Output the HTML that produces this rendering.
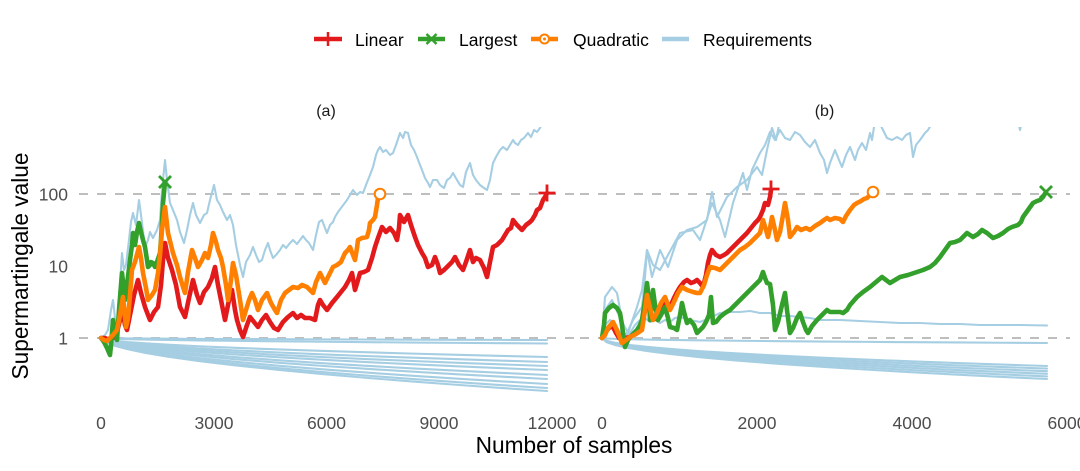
<!DOCTYPE html>
<html><head><meta charset="utf-8"><style>
html,body{margin:0;padding:0;background:#fff}
svg{display:block}
.req{fill:none;stroke:#A6CEE3;stroke-width:2.1;stroke-linejoin:round;stroke-linecap:round}
.s{fill:none;stroke-width:4.6;stroke-linejoin:round;stroke-linecap:round}
.grid{stroke:#BEBEBE;stroke-width:2;stroke-dasharray:9 9}
.tk{font-size:17.5px;fill:#4D4D4D}
</style></head><body>
<svg width="1080" height="471" viewBox="0 0 1080 471" xmlns="http://www.w3.org/2000/svg" font-family="'Liberation Sans', Arial, sans-serif">
<defs>
<clipPath id="ca"><rect x="79" y="127" width="496" height="290"/></clipPath>
<clipPath id="cb"><rect x="580" y="127" width="490" height="290"/></clipPath>
<path id="fa" d="M0 0 L4.46 .0794 L13.38 .1453 L26.76 .2128 L44.6 .2818 L66.9 .3523 L98.12 .4348 L133.8 .5157 L178.4 .6041 L223 .683 L267.6 .755 L312.2 .8219 L356.8 .8845 L401.4 .9437 L446 1" class="req" vector-effect="non-scaling-stroke"/>
<path id="fb" d="M0 0 L4.45 .1 L13.35 .1732 L26.7 .2449 L44.5 .3162 L66.75 .3873 L97.9 .469 L133.5 .5477 L178 .6325 L222.5 .7071 L267 .7746 L311.5 .8367 L356 .8944 L400.5 .9487 L445 1" class="req" vector-effect="non-scaling-stroke"/>
</defs>

<!-- Legend -->
<g>
<line x1="314" y1="39" x2="342" y2="39" stroke="#E31A1C" stroke-width="4.5"/>
<line x1="328" y1="32" x2="328" y2="46" stroke="#E31A1C" stroke-width="2.5"/>
<text x="355" y="46" font-size="17.5" fill="#000">Linear</text>
<line x1="418" y1="39" x2="445" y2="39" stroke="#33A02C" stroke-width="4.5"/>
<line x1="426.5" y1="34" x2="436.5" y2="44" stroke="#33A02C" stroke-width="2.5"/>
<line x1="426.5" y1="44" x2="436.5" y2="34" stroke="#33A02C" stroke-width="2.5"/>
<text x="459" y="46" font-size="17.5" fill="#000">Largest</text>
<line x1="531" y1="39" x2="558" y2="39" stroke="#FF7F00" stroke-width="4.5"/>
<circle cx="544.5" cy="39" r="4.5" fill="#fff" stroke="#FF7F00" stroke-width="2"/>
<circle cx="544.5" cy="39" r="1.5" fill="#FF7F00"/>
<text x="573" y="46" font-size="17.5" fill="#000">Quadratic</text>
<line x1="662" y1="39" x2="689" y2="39" stroke="#A6CEE3" stroke-width="4.5"/>
<text x="703" y="46" font-size="17.5" fill="#000">Requirements</text>
</g>

<!-- Panel titles -->
<text x="326" y="116" font-size="16" fill="#1A1A1A" text-anchor="middle">(a)</text>
<text x="824.5" y="116" font-size="16" fill="#1A1A1A" text-anchor="middle">(b)</text>

<!-- Y axis -->
<text class="tk" x="68" y="200.3" text-anchor="end">100</text>
<text class="tk" x="68" y="272.3" text-anchor="end">10</text>
<text class="tk" x="68" y="344.3" text-anchor="end">1</text>
<text transform="translate(28,266) rotate(-90)" font-size="22.7" fill="#000" text-anchor="middle">Supermartingale value</text>

<!-- X axis -->
<g class="tk" text-anchor="middle">
<text x="101" y="429">0</text>
<text x="214" y="429">3000</text>
<text x="326.5" y="429">6000</text>
<text x="439" y="429">9000</text>
<text x="552" y="429">12000</text>
<text x="602" y="429">0</text>
<text x="757" y="429">2000</text>
<text x="912" y="429">4000</text>
<text x="1067" y="429">6000</text>
</g>
<text x="574" y="453" font-size="22.7" fill="#000" text-anchor="middle">Number of samples</text>

<!-- Grid dashed lines -->
<line class="grid" x1="79" y1="194" x2="575" y2="194"/>
<line class="grid" x1="79" y1="338" x2="575" y2="338"/>
<line class="grid" x1="580" y1="194" x2="1070" y2="194"/>
<line class="grid" x1="580" y1="338" x2="1070" y2="338"/>

<!-- Panel A -->
<g clip-path="url(#ca)">
<use href="#fa" transform="translate(101,338) scale(1,2)"/>
<use href="#fa" transform="translate(101,338) scale(1,5.5)"/>
<use href="#fa" transform="translate(101,338) scale(1,19)"/>
<use href="#fa" transform="translate(101,338) scale(1,24)"/>
<use href="#fa" transform="translate(101,338) scale(1,28)"/>
<use href="#fa" transform="translate(101,338) scale(1,32)"/>
<use href="#fa" transform="translate(101,338) scale(1,37)"/>
<use href="#fa" transform="translate(101,338) scale(1,41)"/>
<use href="#fa" transform="translate(101,338) scale(1,46)"/>
<use href="#fa" transform="translate(101,338) scale(1,50)"/>
<use href="#fa" transform="translate(101,338) scale(1,53)"/>
<polyline class="req" points="101,338 105,335 108,330 111,310 113,300 115,318 117,335 119,300 122,253 124,270 126,265 129,240 131,222 133,213 136,225 139,200 141,215 145,247 148,240 150,232 153,238 157,230 160,220 162,190 165,160 167,180 170,203 173,210 177,220 180,232 184,243 187,230 190,215 193,203 196,215 200,223 204,215 207,213 210,200 214,185 217,200 220,205 223,212 227,220 230,215 233,225 236,245 240,265 243,277 246,262 250,255 253,247 256,255 259,262 262,260 265,250 268,243 270,250 273,258 276,255 280,250 283,245 286,248 290,243 293,240 297,244 300,240 303,236 306,240 309,243 313,250 316,235 319,222 322,220 325,228 327,233 330,225 333,222 335,217 338,212 341,208 344,204 347,200 350,195 353,190 357,195 360,192 363,193 366,185 370,175 373,167 376,155 378,150 380,147 383,152 386,150 390,155 393,153 396,145 400,133 403,138 405,132 408,133 411,145 414,150 417,157 420,165 422,170 425,178 428,183 430,187 433,180 437,180 440,185 444,188 447,180 450,178 453,173 457,180 460,185 463,187 466,172 470,163 473,175 476,180 480,185 484,188 487,190 490,180 493,163 496,157 500,150 503,147 507,150 510,145 513,140 515,143 518,145 521,140 524,138 528,133 531,137 534,130 537,132 540,128 543,122 547,118"/>
<polyline class="s" stroke="#E31A1C" points="101,338 105,338 109,340 113,338 117,332 120,320 123,313 125,325 127,330 130,315 134,295 138,280 141,293 145,307 148,315 150,320 154,312 158,307 161,285 163,260 165,243 168,258 172,270 176,285 180,307 185,317 189,298 193,280 197,295 200,303 204,292 208,287 212,278 215,267 218,285 222,305 225,320 229,300 232,290 235,310 237,320 240,330 243,337 247,325 250,317 254,322 258,327 262,320 266,315 270,322 274,328 278,330 283,322 288,317 293,313 297,318 301,315 305,318 310,318 315,320 318,305 320,300 323,305 327,310 332,303 337,297 341,292 345,287 349,280 352,273 355,290 358,280 360,273 364,272 368,270 372,258 375,247 378,238 382,227 386,232 390,228 394,233 397,240 399,228 400,215 404,222 408,215 411,225 415,237 418,245 422,253 425,258 428,267 432,265 435,257 438,265 440,273 444,270 448,266 452,262 455,257 459,265 463,270 466,262 470,250 473,262 476,258 480,260 484,268 487,277 490,262 493,247 497,245 502,240 505,235 508,230 511,228 513,220 517,225 522,230 526,225 530,222 532,220 535,215 537,210 540,208 543,200 545,197 547,193"/>
<polyline class="s" stroke="#33A02C" points="101,338 104,342 107,348 110,355 111,345 113,320 115,330 117,340 119,310 122,273 124,290 125,300 127,285 130,260 132,245 133,233 135,245 137,232 139,223 141,232 143,240 145,247 147,260 148,267 150,265 151,262 153,263 155,267 157,262 160,253 161,240 163,203 165,182"/>
<polyline class="s" stroke="#FF7F00" points="101,338 104,340 107,341 110,338 113,335 117,330 120,315 123,297 126,327 128,318 130,295 132,270 135,262 139,247 141,258 143,273 146,288 148,300 152,295 155,290 158,273 160,255 162,230 165,207 168,233 171,245 173,253 177,265 180,277 183,287 185,293 188,272 192,250 195,258 198,267 202,260 205,253 208,258 211,245 213,233 216,242 218,250 221,258 223,267 226,285 228,300 231,280 233,263 236,275 240,300 243,320 246,310 249,300 252,293 255,300 258,310 262,300 267,293 271,303 275,310 277,313 281,300 285,293 289,290 293,287 298,288 302,285 307,287 310,290 313,293 316,282 320,273 325,283 329,275 333,267 337,265 341,262 345,253 348,250 350,247 353,255 355,260 357,248 358,240 362,238 367,237 369,230 370,223 373,220 375,217 377,205 378,198 380,194"/>
</g>
<!-- markers A -->
<line x1="547" y1="184.5" x2="547" y2="201.5" stroke="#E31A1C" stroke-width="2.8"/>
<line x1="538.5" y1="193" x2="555.5" y2="193" stroke="#E31A1C" stroke-width="2.8"/>
<line x1="159" y1="176" x2="171" y2="188" stroke="#33A02C" stroke-width="2.8"/>
<line x1="159" y1="188" x2="171" y2="176" stroke="#33A02C" stroke-width="2.8"/>
<circle cx="380" cy="194" r="5.3" fill="#fff" stroke="#FF7F00" stroke-width="2"/>

<!-- Panel B -->
<g clip-path="url(#cb)">
<use href="#fb" transform="translate(602,338) scale(1,5)"/>
<use href="#fb" transform="translate(602,338) scale(1,28)"/>
<use href="#fb" transform="translate(602,338) scale(1,30.6)"/>
<use href="#fb" transform="translate(602,338) scale(1,33.2)"/>
<use href="#fb" transform="translate(602,338) scale(1,35.8)"/>
<use href="#fb" transform="translate(602,338) scale(1,38.4)"/>
<use href="#fb" transform="translate(602,338) scale(1,41)"/>
<polyline class="req" points="602,338 605,325 610,320 615,325 620,332 625,336 630,333 635,325 640,320 645,318 650,322 655,320 660,323 665,320 670,322 675,318 680,317 690,320 700,322 710,318 720,313 730,312 740,312 750,311 760,313 770,313 780,316 790,316 800,317 810,318 820,320 840,320 860,321 880,322 900,323 920,323 940,324 960,324 980,325 1000,325 1020,325 1047,325.5"/>
<polyline class="req" points="602,338 605,297 612,287 617,293 622,320 625,337 633,320 642,307 645,277 647,250 652,277 660,250 668,267 677,240 687,230 697,227 707,220 712,192 717,217 727,197 737,187 747,180 757,167 762,175 767,150 772,128 776,140 780,120 790,110 800,100 900,100 1015,110 1020,130 1024,110"/>
<polyline class="req" points="602,338 605,310 612,300 620,318 628,333 637,307 642,290 647,250 653,265 660,270 668,255 680,233 693,230 700,240 705,225 712,203 720,220 725,237 733,203 743,173 747,190 752,170 760,153 765,145 770,132 775,140 780,130 785,138 790,140 795,132 800,135 805,142 810,147 815,140 820,153 824,160 827,173 830,163 835,150 839,160 842,167 846,155 850,147 855,160 858,150 862,143 866,150 870,133 872,140 874,127 878,120 883,130 887,138 892,140 897,137 902,140 906,135 910,133 913,157 916,145 920,140 925,133 928,130 931,125 935,115"/>
<polyline class="s" stroke="#E31A1C" points="602,338 605,333 607,330 610,327 613,327 616,333 619,338 622,340 626,338 630,337 635,334 640,330 644,315 647,300 650,310 652,317 655,318 658,320 661,310 665,300 668,305 670,307 674,298 677,292 680,287 684,282 687,280 691,283 694,282 697,280 700,283 703,287 706,275 708,263 710,255 712,250 716,255 720,257 724,255 727,253 732,248 737,243 742,238 747,233 751,228 755,223 758,220 760,217 763,210 765,203 768,205 770,197 771,190"/>
<polyline class="s" stroke="#33A02C" points="602,338 604,325 605,313 609,308 613,305 617,308 620,313 622,325 623,333 625,347 628,340 632,335 637,330 640,325 642,320 645,300 647,283 649,300 650,320 652,305 653,290 655,305 658,320 661,315 665,307 668,318 670,327 674,328 677,330 680,315 682,303 684,312 687,323 690,320 694,325 697,333 700,330 703,327 706,322 709,315 711,297 713,323 716,322 720,317 725,313 730,310 734,306 737,303 742,298 747,293 752,288 757,283 760,280 763,272 765,278 767,283 770,284 773,305 775,330 778,322 782,305 785,293 787,310 790,333 793,328 797,318 800,313 803,322 806,330 808,333 812,326 817,320 822,315 827,310 830,312 835,312 840,312 843,313 847,310 850,305 857,297 863,292 870,287 876,282 882,277 886,280 890,283 895,280 900,277 908,275 917,272 923,270 930,267 935,263 940,257 945,250 950,243 955,242 960,240 967,233 970,235 973,237 978,234 982,230 987,233 993,238 998,236 1003,233 1008,229 1012,227 1018,225 1021,222 1023,217 1028,210 1033,203 1037,201 1040,200 1043,197 1046,192"/>
<polyline class="s" stroke="#FF7F00" points="602,338 605,335 608,328 613,322 616,328 618,333 622,343 626,340 630,337 636,334 642,330 645,310 647,295 650,308 653,320 657,313 661,303 665,297 668,305 670,310 674,302 678,293 682,287 687,290 693,292 697,293 700,293 704,285 707,275 710,267 715,268 720,270 725,265 730,260 735,255 740,250 745,247 750,243 755,238 760,233 763,220 766,230 768,237 770,228 772,217 775,230 777,240 780,232 783,215 785,203 788,220 790,237 794,232 797,227 801,230 806,228 810,230 815,226 820,223 824,220 827,218 830,220 835,218 840,219 843,222 846,216 850,210 854,205 857,203 861,201 864,199 867,198 870,195 873,192"/>
</g>
<!-- markers B -->
<line x1="771" y1="180.5" x2="771" y2="197.5" stroke="#E31A1C" stroke-width="2.8"/>
<line x1="762.5" y1="189" x2="779.5" y2="189" stroke="#E31A1C" stroke-width="2.8"/>
<line x1="1040" y1="186" x2="1052" y2="198" stroke="#33A02C" stroke-width="2.8"/>
<line x1="1040" y1="198" x2="1052" y2="186" stroke="#33A02C" stroke-width="2.8"/>
<circle cx="873" cy="192" r="5.3" fill="#fff" stroke="#FF7F00" stroke-width="2"/>
</svg>
</body></html>
